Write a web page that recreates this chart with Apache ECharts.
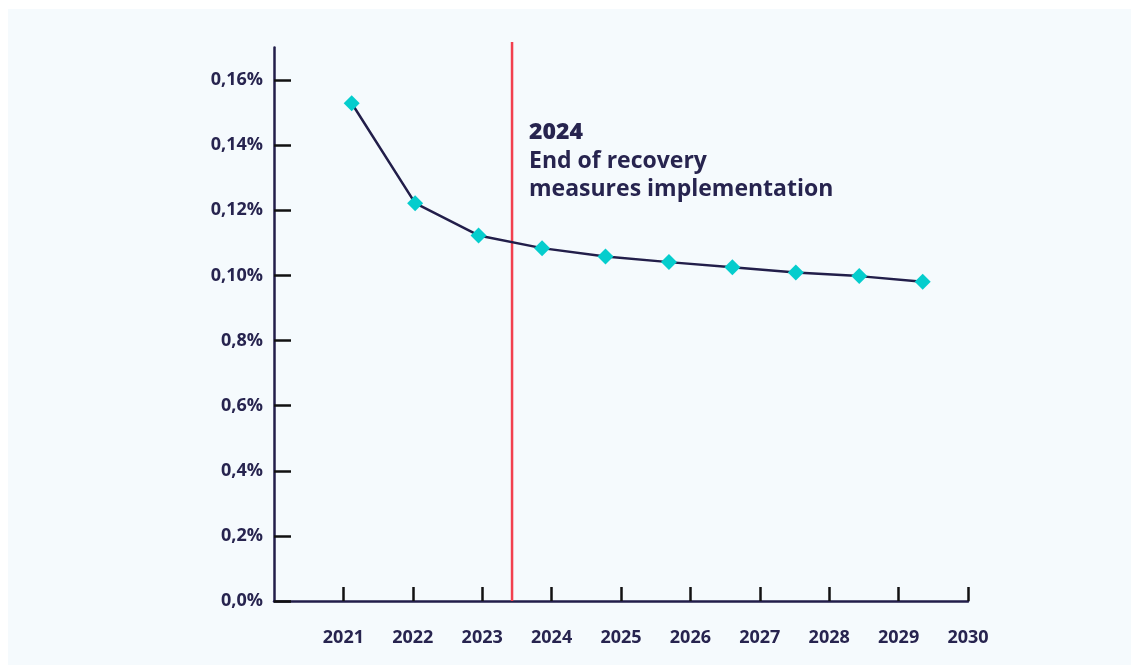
<!DOCTYPE html>
<html>
<head>
<meta charset="utf-8">
<script src="https://cdn.jsdelivr.net/npm/echarts@6/dist/echarts.min.js"></script>
<style>
  html, body { margin: 0; padding: 0; background: #ffffff; width: 1131px; height: 665px; overflow: hidden; }
  #panel { position: absolute; left: 8px; top: 9px; width: 1123px; height: 656px; background: #f5fafd; }
  #chart { position: absolute; left: 0; top: 0; width: 1131px; height: 665px; }
</style>
</head>
<body>
<div id="panel"></div>
<div id="chart"></div>
<script>
// ---- data ----
const years = ['2021', '2022', '2023', '2024', '2025', '2026', '2027', '2028', '2029', '2030'];
const rates = [0.1529, 0.1222, 0.1123, 0.1084, 0.1058, 0.1041, 0.1025, 0.1009, 0.0998, 0.0981];
const yTickValues = [0, 0.02, 0.04, 0.06, 0.08, 0.10, 0.12, 0.14, 0.16];
const yTickLabels = ['0,0%', '0,2%', '0,4%', '0,6%', '0,8%', '0,10%', '0,12%', '0,14%', '0,16%'];
const xTickValues = [2021, 2022, 2023, 2024, 2025, 2026, 2027, 2028, 2029, 2030];
const xTickLabels = ['2021', '2022', '2023', '2024', '2025', '2026', '2027', '2028', '2029', '2030'];
const markerYear = 2023.43;
const markerSpan = [0, 0.1717];
const annotationLines = ['2024', 'End of recovery', 'measures implementation'];

// ---- styles ----
const NAVY = '#27244f';
const LINE = '#221e4a';
const TEAL = '#05cdcd';
const RED = '#f23f4e';
const FONT = '"Open Sans", "Noto Sans", sans-serif';

const chart = echarts.init(document.getElementById('chart'), null, { renderer: 'canvas' });

const gridTop = 47.6, gridBottom = 64;

const option = {
  backgroundColor: 'transparent',
  animation: false,
  grid: [
    { left: 274, right: 163, top: gridTop, bottom: gridBottom, containLabel: false },
    { left: 351.7, right: 208.3, top: gridTop, bottom: gridBottom, containLabel: false }
  ],
  xAxis: [
    {
      gridIndex: 0, type: 'value', min: 2020, max: 2030, interval: 1,
      axisLine: { show: true, lineStyle: { color: LINE, width: 2.5 } },
      axisTick: { show: true, inside: true, length: 14, lineStyle: { color: '#111111', width: 2.5 }, customValues: xTickValues },
      axisLabel: {
        show: true, customValues: xTickValues, margin: 28,
        color: NAVY, fontSize: 18, fontWeight: 'bold', fontFamily: FONT,
        formatter: function (v) { const i = xTickValues.indexOf(Math.round(v)); return i >= 0 ? xTickLabels[i] : ''; }
      },
      splitLine: { show: false }
    },
    {
      gridIndex: 1, type: 'category', data: years, boundaryGap: false, show: false
    }
  ],
  yAxis: [
    {
      gridIndex: 0, type: 'value', min: 0, max: 0.17,
      axisLine: { show: true, lineStyle: { color: LINE, width: 2.5 } },
      axisTick: { show: true, inside: true, length: 17, lineStyle: { color: '#111111', width: 2.5 }, customValues: yTickValues },
      axisLabel: {
        show: true, customValues: yTickValues, margin: 11,
        color: NAVY, fontSize: 18, fontWeight: 'bold', fontFamily: FONT,
        formatter: function (v) { const i = Math.round(v / 0.02); return yTickLabels[i] || ''; }
      },
      splitLine: { show: false }
    },
    {
      gridIndex: 1, type: 'value', min: 0, max: 0.17, show: false
    }
  ],
  series: [
    {
      name: 'marker', type: 'line', xAxisIndex: 0, yAxisIndex: 0,
      data: markerSpan.map(function (v) { return [markerYear, v]; }),
      symbol: 'none', silent: true, clip: false,
      lineStyle: { color: RED, width: 2.5 },
      z: 3
    },
    {
      type: 'line', xAxisIndex: 1, yAxisIndex: 1, data: rates,
      symbol: 'diamond', symbolSize: 16,
      lineStyle: { color: LINE, width: 2.5 },
      itemStyle: { color: TEAL },
      z: 5
    }
  ],
  graphic: [
    { type: 'text', left: 529, top: 121, style: { text: annotationLines[0], font: '800 23px ' + FONT, fill: NAVY } },
    { type: 'text', left: 529, top: 150, style: { text: annotationLines[1], font: 'bold 23px ' + FONT, fill: NAVY } },
    { type: 'text', left: 529, top: 178, style: { text: annotationLines[2], font: 'bold 23px ' + FONT, fill: NAVY } }
  ]
};

chart.setOption(option);
</script>
</body>
</html>
